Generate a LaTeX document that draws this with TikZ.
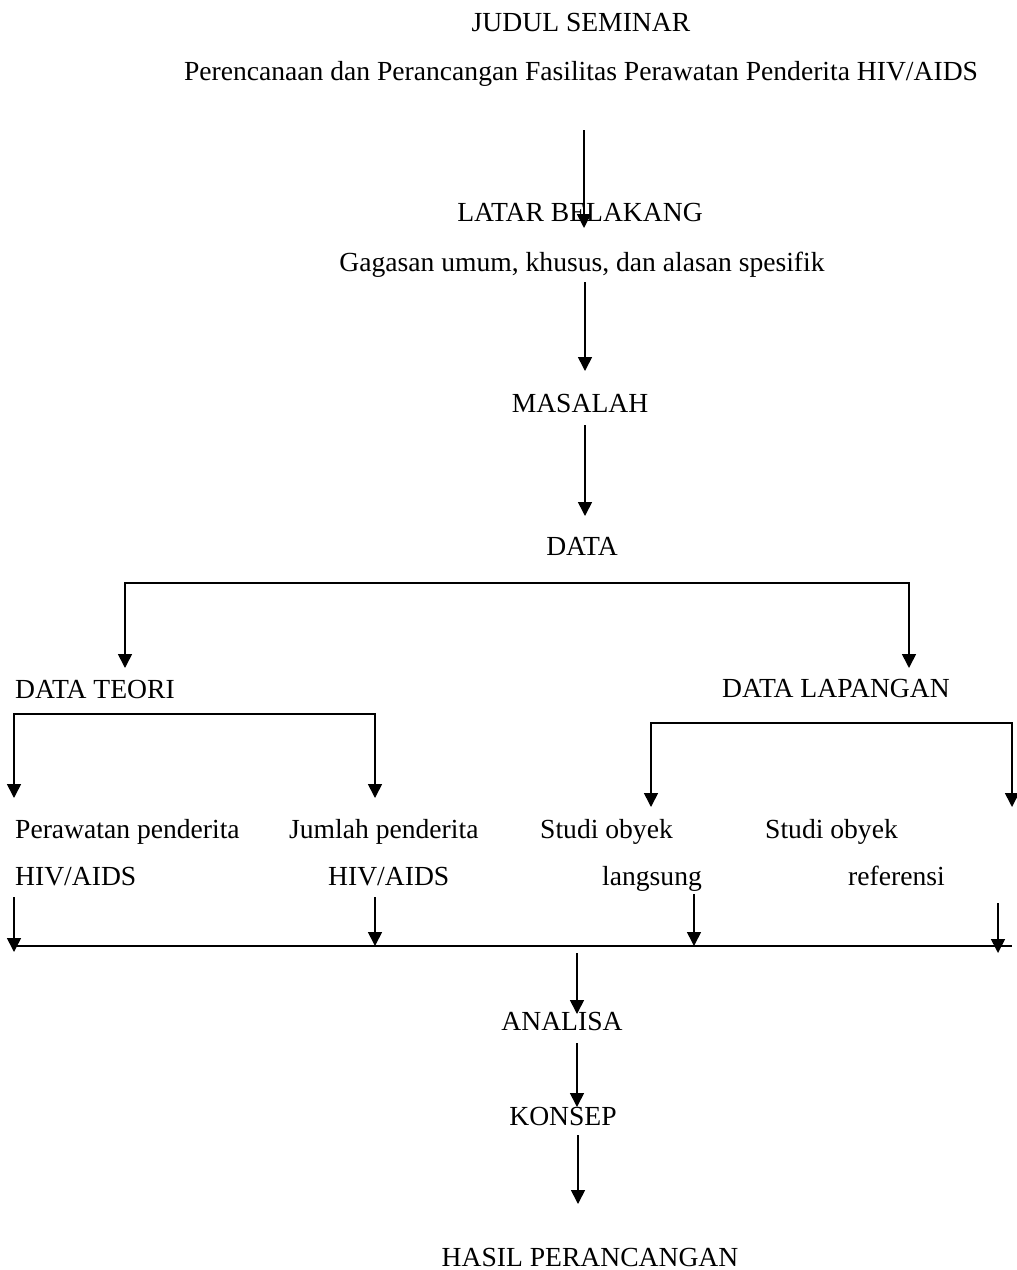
\documentclass[tikz,border=0pt]{standalone}
\usepackage{fontspec}
\setmainfont{Liberation Serif}
\usetikzlibrary{arrows.meta}
\begin{document}
\begin{tikzpicture}[x=1pt,y=-1pt,
  lbl/.style={inner sep=0pt, anchor=base, font=\fontsize{27.6}{32}\selectfont},
  lblw/.style={lbl, anchor=base west},
  arr/.style={line width=1.6pt, -{Triangle[width=14pt,length=14pt]}},
  darr/.style={line width=1.6pt, {Triangle[width=14pt,length=14pt]}-{Triangle[width=14pt,length=14pt]}, line join=miter},
  ln/.style={line width=1.6pt}]
\useasboundingbox (0,0) rectangle (1017,1270);
% texts
\node[lbl] (judul) at (581,31) {JUDUL SEMINAR};
\node[lbl] (perenc) at (581,80) {Perencanaan dan Perancangan Fasilitas Perawatan Penderita HIV/AIDS};
\node[lbl] (latar) at (580,221) {LATAR BELAKANG};
\node[lbl] (gagasan) at (582,271) {Gagasan umum, khusus, dan alasan spesifik};
\node[lbl] (masalah) at (580,412) {MASALAH};
\node[lbl] (data) at (582,555) {DATA};
\node[lblw] (teori) at (15,698) {DATA TEORI};
\node[lblw] (lapangan) at (722,697) {DATA LAPANGAN};
\node[lblw] (perawatan) at (15,838) {Perawatan penderita};
\node[lblw] (hiv1) at (15,885) {HIV/AIDS};
\node[lblw] (jumlah) at (289,838) {Jumlah penderita};
\node[lblw] (hiv2) at (328,885) {HIV/AIDS};
\node[lblw] (studi1) at (540,838) {Studi obyek};
\node[lblw] (langsung) at (602,885) {langsung};
\node[lblw] (studi2) at (765,838) {Studi obyek};
\node[lblw] (referensi) at (848,885) {referensi};
\node[lbl] (analisa) at (562,1030) {ANALISA};
\node[lbl] (konsep) at (563,1125) {KONSEP};
\node[lbl] (hasil) at (590,1266) {HASIL PERANCANGAN};
% arrow end points
\coordinate (a1s) at (584,130); \coordinate (a1e) at (584,228);
\coordinate (a2s) at (585,282); \coordinate (a2e) at (585,371);
\coordinate (a3s) at (585,425); \coordinate (a3e) at (585,516);
\coordinate (b1l) at (125,583); \coordinate (b1r) at (909,583);
\coordinate (b1lt) at (125,668); \coordinate (b1rt) at (909,668);
\coordinate (b2l) at (14,714); \coordinate (b2r) at (375,714);
\coordinate (b2lt) at (14,798); \coordinate (b2rt) at (375,798);
\coordinate (b3l) at (651,723); \coordinate (b3r) at (1012,723);
\coordinate (b3lt) at (651,807); \coordinate (b3rt) at (1012,807);
\coordinate (c1s) at (14,897); \coordinate (c1e) at (14,952);
\coordinate (c2s) at (375,897); \coordinate (c2e) at (375,946);
\coordinate (c3s) at (694,894); \coordinate (c3e) at (694,946);
\coordinate (c4s) at (998,903); \coordinate (c4e) at (998,953);
\coordinate (busl) at (14,946); \coordinate (busr) at (1012,946);
\coordinate (d1s) at (577,953); \coordinate (d1e) at (577,1014);
\coordinate (d2s) at (577,1043); \coordinate (d2e) at (577,1107);
\coordinate (d3s) at (578,1135); \coordinate (d3e) at (578,1204);
% connectors
\draw[arr] (a1s) -- (a1e);
\draw[arr] (a2s) -- (a2e);
\draw[arr] (a3s) -- (a3e);
\draw[darr] (b1lt) -- (b1l) -- (b1r) -- (b1rt);
\draw[darr] (b2lt) -- (b2l) -- (b2r) -- (b2rt);
\draw[darr] (b3lt) -- (b3l) -- (b3r) -- (b3rt);
\draw[arr] (c1s) -- (c1e);
\draw[arr] (c2s) -- (c2e);
\draw[arr] (c3s) -- (c3e);
\draw[arr] (c4s) -- (c4e);
\draw[ln] (busl) -- (busr);
\draw[arr] (d1s) -- (d1e);
\draw[arr] (d2s) -- (d2e);
\draw[arr] (d3s) -- (d3e);
\end{tikzpicture}
\end{document}
